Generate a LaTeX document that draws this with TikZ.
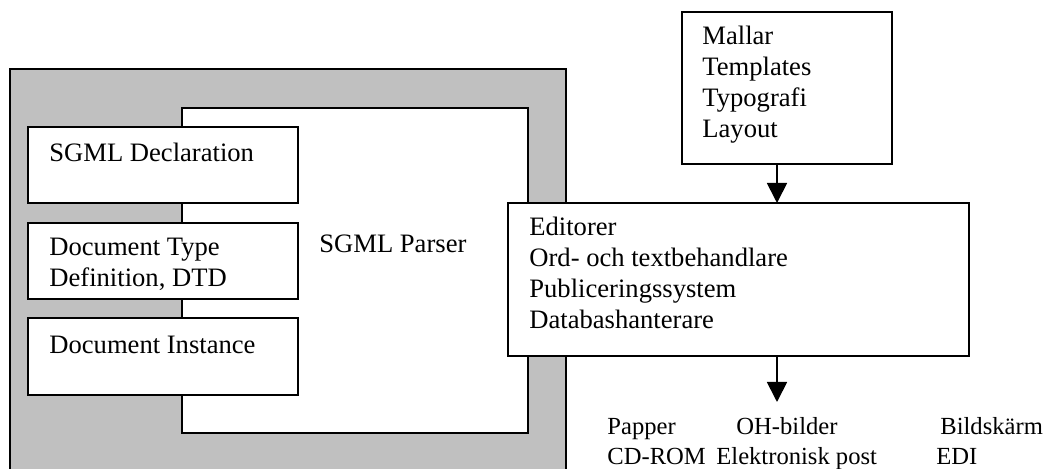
\documentclass[tikz,border=0pt]{standalone}
\usepackage{fontspec}
\setmainfont{Liberation Serif}
\usetikzlibrary{arrows.meta}
\definecolor{shade}{HTML}{C0C0C0}

\begin{document}
\begin{tikzpicture}[x=0.5pt,y=-0.5pt]
       \tikzstyle{every node}=[font=\fontsize{13.3}{15.5}\selectfont]
       \tikzstyle{box}=[draw,line width=0.9pt,fill=white,anchor=north west,inner sep=0pt,outer sep=0pt]
       \tikzstyle{txt}=[anchor=base west,inner sep=0pt,align=left]
       \tikzstyle{medium}=[txt,font=\fontsize{12.3}{15}\selectfont]
       \tikzstyle{flow}=[-{Triangle[length=10pt,width=10pt]},line width=0.9pt]

   \useasboundingbox (0,0) rectangle (1055,469);

   % SGML side
   \node[box,fill=shade,minimum width=278pt,minimum height=210pt] (frame) at (10,69) {};
   \node[box,minimum width=173pt,minimum height=162.5pt] (parser) at (182,108) {};
   \node[txt] (parsertext) at (319,253) {SGML Parser};

   \node[box,minimum width=135pt,minimum height=38pt] (decl) at (28,127) {};
   \node[txt] (decltext) at (49,162) {SGML Declaration};
   \node[box,minimum width=135pt,minimum height=38pt] (dtd) at (28,223) {};
   % base of a multi-line node is its last line
   \node[txt] (dtdtext) at (49,287) {Document Type\\Definition, DTD};
   \node[box,minimum width=135pt,minimum height=38.5pt] (inst) at (28,318) {};
   \node[txt] (insttext) at (49,354) {Document Instance};

   % tools
   \node[box,minimum width=230.5pt,minimum height=76.5pt] (editor) at (508,203) {};
   \node[txt] (editortext) at (529,329) {Editorer\\Ord- och textbehandlare\\Publiceringssystem\\Databashanterare};
   \node[box,minimum width=105pt,minimum height=76pt] (mallar) at (682,12) {};
   \node[txt] (mallartext) at (702,138) {Mallar\\Templates\\Typografi\\Layout};

   \coordinate (drop) at (777,0);
   \coordinate (media) at (777,402);
   \draw[flow] (mallar.south -| drop) -- (editor.north -| drop);
   \draw[flow] (editor.south -| media) -- (media);

   % output media
   \node[medium] (papper) at (607,435) {Papper};
   \node[medium] (oh) at (736,435) {OH-bilder};
   \node[medium] (skarm) at (940,435) {Bildskärm};
   \node[medium] (cdrom) at (607,465) {CD-ROM};
   \node[medium] (epost) at (716,465) {Elektronisk post};
   \node[medium] (edi) at (936,465) {EDI};
\end{tikzpicture}
\end{document}
